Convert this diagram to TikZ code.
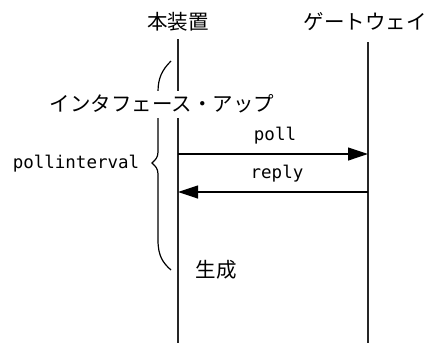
\documentclass[tikz,border=0pt]{standalone}
\usepackage{fontspec}
\newfontfamily\jp{Noto Sans CJK JP}
\newfontfamily\mono{DejaVu Sans Mono}
\usetikzlibrary{arrows.meta}
\begin{document}
\begin{tikzpicture}[x=1pt,y=-1pt,
  line/.style={line width=1.3pt,black!85},
  msg/.style={line width=1.2pt,-{Triangle[length=20pt,width=13pt]}},
  jtext/.style={font=\jp\fontsize{20.5}{20.5}\selectfont,inner sep=0pt},
  mtext/.style={font=\mono\fontsize{17.5}{17.5}\selectfont,inner sep=0pt}]
\useasboundingbox (0,0) rectangle (428,343);
% headers
\node[jtext] (dev) at (178,22) {本装置};
\node[jtext] (gw) at (365,22) {ゲートウェイ};
% lifelines
\coordinate (devtop) at (178,39);
\coordinate (devbot) at (178,343);
\coordinate (gwtop) at (368,42);
\coordinate (gwbot) at (368,343);
\draw[line] (devtop) -- (devbot);
\draw[line] (gwtop) -- (gwbot);
% brace
\draw[line width=1.2pt]
  (171,61) .. controls (162,70) and (158,78) .. (158,92)
  -- (158,152) .. controls (158,158) and (155,160) .. (152,163)
  .. controls (155,166) and (158,168) .. (158,174)
  -- (158,240) .. controls (158,256) and (163,263) .. (171,270);
% interface-up label occluding lines
\node[jtext,fill=white,minimum height=27pt,inner xsep=1pt] (ifup) at (162,104) {インタフェース・アップ};
% messages
\coordinate (p1) at (178,154);
\coordinate (p2) at (368,154);
\coordinate (r1) at (368,192);
\coordinate (r2) at (178,192);
\draw[msg] (p1) -- (p2);
\draw[msg] (r1) -- (r2);
\node[mtext] (poll) at (275,136) {poll};
\node[mtext] (reply) at (277,174) {reply};
\node[mtext] (pint) at (76,164) {pollinterval};
\node[jtext] (gen) at (216,270) {生成};
\end{tikzpicture}
\end{document}
